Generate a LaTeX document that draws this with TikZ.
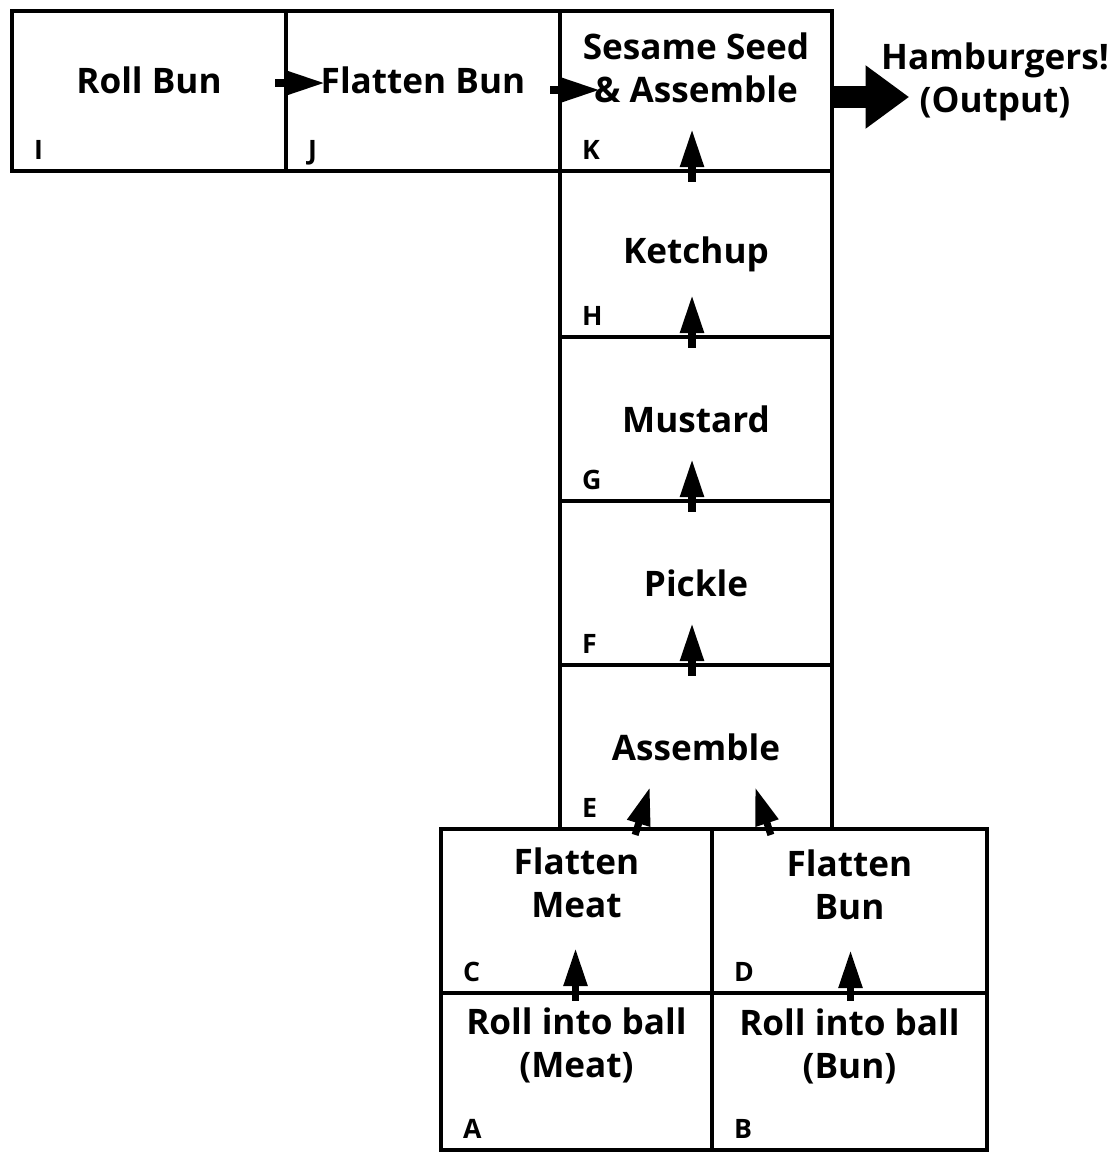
\documentclass[tikz,border=0pt]{standalone}
\usepackage{fontspec}
\setsansfont{Open Sans}
\usetikzlibrary{calc, arrows.meta}
\newdimen\px \px=0.25mm

\begin{document}
\begin{tikzpicture}[x=0.25mm,y=-0.25mm,
  stage/.style={draw,line width=3pt,inner sep=0pt},
  caption/.style={font=\sffamily\bfseries\fontsize{25}{31}\selectfont,align=center,inner sep=0pt},
  tag/.style={font=\sffamily\bfseries\fontsize{19}{19}\selectfont,anchor=base west,inner sep=0pt},
  flow/.style={-{Triangle[length=27pt,width=16pt]},line width=5pt},
  bigflow/.style={-{Triangle[length=31pt,width=43pt]},line width=15pt}]
\useasboundingbox (0,0) rectangle (1118,1154);

% top row
\node[stage,minimum width=274\px,minimum height=160\px] (I) at (149,91) {};
\node[stage,minimum width=274\px,minimum height=160\px] (J) at (423,91) {};
\node[stage,minimum width=272\px,minimum height=160\px] (K) at (696,91) {};

% column
\node[stage,minimum width=272\px,minimum height=166\px] (H) at (696,254) {};
\node[stage,minimum width=272\px,minimum height=164\px] (G) at (696,419) {};
\node[stage,minimum width=272\px,minimum height=164\px] (F) at (696,583) {};
\node[stage,minimum width=272\px,minimum height=164\px] (E) at (696,747) {};

% bottom block
\node[stage,minimum width=271\px,minimum height=164\px] (C) at (576.5,911) {};
\node[stage,minimum width=275\px,minimum height=164\px] (D) at (849.5,911) {};
\node[stage,minimum width=271\px,minimum height=157\px] (A) at (576.5,1071.5) {};
\node[stage,minimum width=275\px,minimum height=157\px] (B) at (849.5,1071.5) {};

% texts
\node[caption] (tI) at ($(I.center)+(0,-11)$) {Roll Bun};
\node[caption] (tJ) at ($(J.center)+(0,-11)$) {Flatten Bun};
\node[caption] (tK) at ($(K.center)+(0,-23)$) {Sesame Seed\\\& Assemble};
\node[caption] (tH) at (H.center) {Ketchup};
\node[caption] (tG) at (G.center) {Mustard};
\node[caption] (tF) at (F.center) {Pickle};
\node[caption] (tE) at (E.center) {Assemble};
\node[caption] (tC) at ($(C.center)+(0,-28)$) {Flatten\\Meat};
\node[caption] (tD) at ($(D.center)+(0,-26)$) {Flatten\\Bun};
\node[caption] (tA) at ($(A.center)+(0,-26)$) {Roll into ball\\(Meat)};
\node[caption] (tB) at ($(B.center)+(0,-25)$) {Roll into ball\\(Bun)};
\node[caption] (out) at (995,82) {Hamburgers!\\(Output)};

% letters
\foreach \b in {I,J,K,H,G,F,E,C,D,A,B}
  \node[tag] (l\b) at ($(\b.south west)+(24,-14)$) {\b};

% flow arrows
\draw[flow] ($(I.east)+(-13,-8)$) -- ($(J.west)+(41,-8)$);
\draw[flow] ($(J.east)+(-12,-1)$) -- ($(K.west)+(42,-1)$);
\foreach \lo/\hi in {H/K,G/H,F/G,E/F}
  \draw[flow] ($(\lo.north)+(-4,13)$) -- ($(\hi.south)+(-4,-44)$);
\draw[flow] ($(C.north east)+(-79,8)$) -- ($(E.south west)+(92,-44)$);
\draw[flow] ($(D.north west)+(61,8)$) -- ($(E.south east)+(-79,-44)$);
\draw[flow] ($(A.north)+(-1,10)$) -- ($(C.south)+(-1,-47)$);
\draw[flow] ($(B.north)+(1,10)$) -- ($(D.south)+(1,-45)$);
\draw[bigflow] ($(K.east)+(0,6)$) -- ($(K.east)+(75,6)$);
\end{tikzpicture}
\end{document}
